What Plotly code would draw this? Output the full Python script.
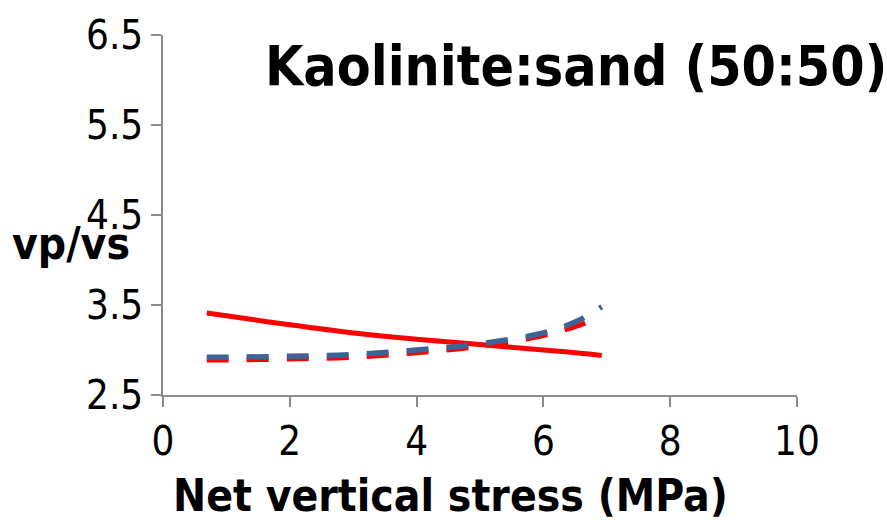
import plotly.graph_objects as go

# Net vertical stress (MPa)
stress = [0.69, 1.0, 2.0, 3.0, 4.0, 5.0, 6.0, 6.5, 6.92]

# vp/vs ratio for each series
vpvs_red_solid = [3.41, 3.38, 3.28, 3.19, 3.12, 3.06, 3.00, 2.97, 2.94]
vpvs_red_dash = [2.89, 2.89, 2.90, 2.92, 2.97, 3.04, 3.16, 3.26, 3.37]
vpvs_blue_dash = [2.92, 2.92, 2.93, 2.95, 3.00, 3.07, 3.19, 3.31, 3.48]

x_ticks = [0, 2, 4, 6, 8, 10]
y_ticks = [2.5, 3.5, 4.5, 5.5, 6.5]

RED = "#FF0000"
BLUE = "#3B6596"
AXIS = "#8C8C8C"
FONT = "DejaVu Sans Condensed, DejaVu Sans"

fig = go.Figure()
fig.add_trace(go.Scatter(x=stress, y=vpvs_red_solid, mode="lines",
                         line=dict(color=RED, width=5, shape="spline")))
fig.add_trace(go.Scatter(x=stress, y=vpvs_red_dash, mode="lines",
                         line=dict(color=RED, width=5, dash="22px,18px", shape="spline")))
fig.add_trace(go.Scatter(x=stress, y=vpvs_blue_dash, mode="lines",
                         line=dict(color=BLUE, width=5.5, dash="22px,18px", shape="spline")))

axis_common = dict(showline=True, linecolor=AXIS, linewidth=1.5, ticks="outside",
                   ticklen=10, tickwidth=1.5, tickcolor=AXIS, showgrid=False,
                   zeroline=False, tickfont=dict(family=FONT, size=40, color="black"))

fig.update_xaxes(range=[0, 10], tickvals=x_ticks, ticktext=[str(v) for v in x_ticks],
                 **axis_common)
fig.update_yaxes(range=[2.5, 6.5], tickvals=y_ticks, ticktext=[str(v) for v in y_ticks],
                 **axis_common)

fig.update_layout(
    width=887, height=520,
    margin=dict(l=163, r=90, t=31, b=125),
    paper_bgcolor="white", plot_bgcolor="white",
    showlegend=False,
    annotations=[
        dict(text="<b>Kaolinite:sand (50:50)</b>", xref="paper", yref="paper",
             x=1.145, y=0.915, xanchor="right", yanchor="middle", showarrow=False,
             font=dict(family=FONT, size=55, color="black")),
        dict(text="<b>Net vertical stress (MPa)</b>", xref="paper", yref="paper",
             x=0.4527, y=-0.279, xanchor="center", yanchor="middle", showarrow=False,
             font=dict(family=FONT, size=44, color="black")),
        dict(text="<b>vp/vs</b>", xref="paper", yref="paper",
             x=-0.242, y=0.42, xanchor="left", yanchor="middle", showarrow=False,
             font=dict(family=FONT, size=44, color="black")),
    ],
)

fig.write_html("out.html")
